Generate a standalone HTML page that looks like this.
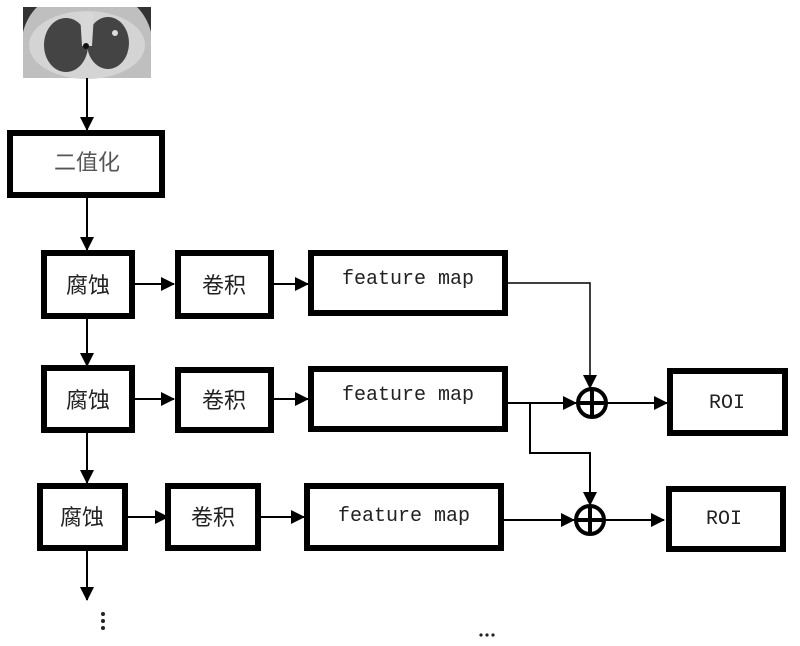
<!DOCTYPE html>
<html><head><meta charset="utf-8"><style>
html,body{margin:0;padding:0;background:#fff;}
svg{display:block;}
.cn{font-family:"Liberation Sans","Noto Sans CJK SC",sans-serif;font-size:22px;fill:#222;}
.mono{font-family:"Liberation Mono",monospace;font-size:20px;fill:#222;}
</style></head><body>
<svg width="800" height="646" viewBox="0 0 800 646" xmlns="http://www.w3.org/2000/svg">
<defs>
<marker id="b" markerWidth="14" markerHeight="14" refX="13" refY="7" orient="auto" markerUnits="userSpaceOnUse">
<path d="M0,0 L14,7 L0,14 z" fill="#000"/></marker>
</defs>
<!-- CT image -->
<rect x="23" y="7" width="128" height="71" fill="#bfbfbf"/>
<path d="M23,7 h14 q-10,10 -14,25 z" fill="#333"/>
<path d="M151,7 h-14 q10,10 14,25 z" fill="#333"/>
<ellipse cx="87" cy="45" rx="58" ry="34" fill="#d4d4d4"/>
<ellipse cx="66" cy="45" rx="22" ry="27" fill="#444"/>
<ellipse cx="108" cy="43" rx="21" ry="26" fill="#444"/>
<path d="M80,14 q8,-3 14,0 l-2,32 l-10,0 z" fill="#d8d8d8"/>
<circle cx="86" cy="46" r="3" fill="#111"/>
<circle cx="115" cy="33" r="3" fill="#ddd"/>
<g stroke="#000" stroke-width="2" fill="none">
<line x1="87" y1="78" x2="87" y2="130" marker-end="url(#b)"/>
<line x1="87" y1="198" x2="87" y2="250" marker-end="url(#b)"/>
<line x1="87" y1="318" x2="87" y2="366" marker-end="url(#b)"/>
<line x1="87" y1="433" x2="87" y2="483" marker-end="url(#b)"/>
<line x1="87" y1="550" x2="87" y2="600" marker-end="url(#b)"/>
<line x1="135" y1="284" x2="174" y2="284" marker-end="url(#b)"/>
<line x1="135" y1="399" x2="174" y2="399" marker-end="url(#b)"/>
<line x1="128" y1="517" x2="168" y2="517" marker-end="url(#b)"/>
<line x1="274" y1="284" x2="308" y2="284" marker-end="url(#b)"/>
<line x1="274" y1="399" x2="308" y2="399" marker-end="url(#b)"/>
<line x1="261" y1="517" x2="304" y2="517" marker-end="url(#b)"/>
<polyline points="508,283 590,283 590,388" stroke-width="1.5" marker-end="url(#b)"/>
<line x1="508" y1="403" x2="576" y2="403" marker-end="url(#b)"/>
<polyline points="530,403 530,453 590,453 590,505" marker-end="url(#b)"/>
<line x1="504" y1="520" x2="574" y2="520" marker-end="url(#b)"/>
<line x1="607" y1="403" x2="667" y2="403" marker-end="url(#b)"/>
<line x1="605" y1="520" x2="664" y2="520" marker-end="url(#b)"/>
</g>
<g stroke="#000" stroke-width="4" fill="none">
<circle cx="592" cy="403" r="14"/><line x1="578" y1="403" x2="606" y2="403"/><line x1="592" y1="389" x2="592" y2="417"/>
<circle cx="590" cy="520" r="14"/><line x1="576" y1="520" x2="604" y2="520"/><line x1="590" y1="506" x2="590" y2="534"/>
</g>
<g stroke="#000" stroke-width="6" fill="#fff">
<rect x="10" y="133" width="152" height="62"/>
<rect x="44" y="253" width="88" height="63"/>
<rect x="178" y="253" width="93" height="63"/>
<rect x="311" y="253" width="194" height="60"/>
<rect x="44" y="368" width="88" height="62"/>
<rect x="178" y="370" width="93" height="60"/>
<rect x="311" y="369" width="194" height="60"/>
<rect x="40" y="486" width="85" height="62"/>
<rect x="168" y="486" width="90" height="62"/>
<rect x="307" y="486" width="194" height="62"/>
<rect x="670" y="371" width="115" height="62"/>
<rect x="669" y="489" width="114" height="60"/>
</g>
<text class="cn" x="87" y="170" text-anchor="middle" style="fill:#555">二值化</text>
<text class="cn" x="88" y="293" text-anchor="middle">腐蚀</text>
<text class="cn" x="224" y="293" text-anchor="middle">卷积</text>
<text class="mono" x="408" y="284" text-anchor="middle">feature map</text>
<text class="cn" x="88" y="408" text-anchor="middle">腐蚀</text>
<text class="cn" x="224" y="408" text-anchor="middle">卷积</text>
<text class="mono" x="408" y="400" text-anchor="middle">feature map</text>
<text class="cn" x="82" y="525" text-anchor="middle">腐蚀</text>
<text class="cn" x="213" y="525" text-anchor="middle">卷积</text>
<text class="mono" x="404" y="521" text-anchor="middle">feature map</text>
<text class="mono" x="727" y="408" text-anchor="middle">ROI</text>
<text class="mono" x="724" y="524" text-anchor="middle">ROI</text>
<g fill="#222">
<circle cx="103" cy="614" r="2"/><circle cx="103" cy="621" r="2"/><circle cx="103" cy="628" r="2"/>
<circle cx="481" cy="635" r="1.6"/><circle cx="487" cy="635" r="1.6"/><circle cx="493" cy="635" r="1.6"/>
</g>
</svg>
</body></html>
